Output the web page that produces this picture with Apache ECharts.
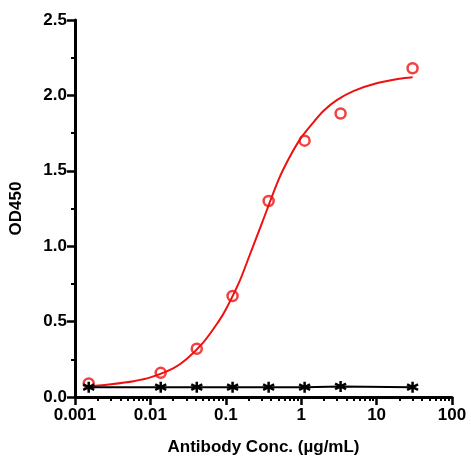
<!DOCTYPE html><html><head><script src="https://cdn.jsdelivr.net/npm/echarts@6/dist/echarts.min.js"></script></head><body style="margin:0"><div id="c" style="width:471px;height:471px"></div><script>
const conc=[0.00152,0.0137,0.0412,0.123,0.37,1.11,3.33,30];
const odSample=[0.09,0.16,0.32,0.67,1.30,1.70,1.88,2.18];
const odControl=[0.065,0.065,0.065,0.065,0.065,0.065,0.07,0.065];
const fitX=[0.0015,0.003,0.006,0.01,0.02,0.03,0.05,0.08,0.1,0.15,0.2,0.3,0.5,0.7,1,1.5,2,3,5,10,20,30];
const fitY=[0.07,0.085,0.105,0.13,0.19,0.25,0.36,0.50,0.58,0.76,0.92,1.15,1.44,1.59,1.72,1.83,1.90,1.97,2.03,2.08,2.11,2.12];
const ast='path://M0,-10L0,10M-8.66,-5L8.66,5M-8.66,5L8.66,-5';
const f='Liberation Sans';
const c=echarts.init(document.getElementById('c'));
c.setOption({animation:false,textStyle:{fontFamily:f},
grid:{left:74,right:19,top:20,bottom:74},
xAxis:{type:'log',min:0.001,max:100,logBase:10,name:'Antibody Conc. (µg/mL)',nameLocation:'middle',nameGap:42,
nameTextStyle:{fontSize:17,fontWeight:'bold',color:'#000'},
axisLine:{lineStyle:{color:'#000',width:3}},axisTick:{length:8,lineStyle:{width:2.5,color:'#000'}},
minorTick:{show:true,splitNumber:9,length:4,lineStyle:{color:'#000',width:2}},
axisLabel:{fontSize:17,fontWeight:'bold',color:'#000',margin:10,formatter:v=>String(v)},splitLine:{show:false}},
yAxis:{type:'value',min:0,max:2.5,interval:0.5,name:'OD450',nameLocation:'middle',nameGap:50,
nameTextStyle:{fontSize:17,fontWeight:'bold',color:'#000'},
axisLine:{show:true,lineStyle:{color:'#000',width:3}},axisTick:{show:true,length:8,lineStyle:{width:2.5,color:'#000'}},
minorTick:{show:true,splitNumber:2,length:4,lineStyle:{color:'#000',width:2}},
axisLabel:{fontSize:17,fontWeight:'bold',color:'#000',formatter:v=>v.toFixed(1)},splitLine:{show:false}},
series:[
{type:'line',data:fitX.map((x,i)=>[x,fitY[i]]),showSymbol:false,smooth:0.3,lineStyle:{color:'#ee1111',width:2}},
{type:'scatter',data:conc.map((x,i)=>[x,odSample[i]]),symbol:'circle',symbolSize:10,itemStyle:{color:'#fff',borderColor:'#ee1111',borderWidth:2.5}},
{type:'line',data:conc.map((x,i)=>[x,odControl[i]]),symbol:ast,symbolSize:11,lineStyle:{color:'#000',width:2},itemStyle:{color:'#000',borderColor:'#000',borderWidth:2.5}}
]});
</script></body></html>
